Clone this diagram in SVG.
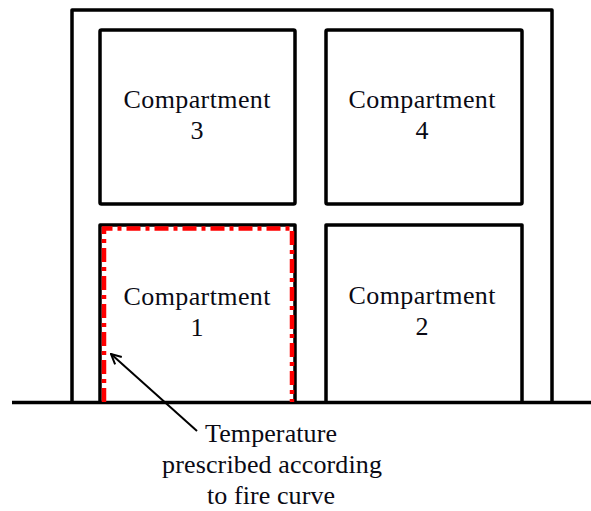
<svg xmlns="http://www.w3.org/2000/svg" width="591" height="511" viewBox="0 0 591 511">
<style>
.wall{fill:none;stroke:#000;stroke-width:3.5;stroke-linejoin:round}
.lbl{font-family:"Liberation Serif","Times New Roman",serif;font-size:26px;fill:#0a0a14;text-anchor:middle}
.fire{fill:none;stroke:#ff0000;stroke-width:4.5;stroke-dasharray:14 5 4 5}
</style>
<defs>
<marker id="arr" viewBox="0 0 12 12" refX="11" refY="6" markerWidth="12" markerHeight="12" markerUnits="userSpaceOnUse" orient="auto">
<path d="M1,1 L11,6 L1,11" fill="none" stroke="#000" stroke-width="2"/>
</marker>
</defs>
<rect width="591" height="511" fill="#fff"/>
<g id="building">
<path class="wall" d="M72,402 V10 H552 V402"/>
</g>
<g id="ground">
<line x1="12" y1="402.5" x2="591" y2="402.5" stroke="#000" stroke-width="3.5"/>
</g>
<g id="compartment3">
<rect class="wall" x="100" y="30" width="195" height="174" rx="1.5"/>
<text class="lbl" x="197" y="108" textLength="147" lengthAdjust="spacing">Compartment</text>
<text class="lbl" x="197" y="139">3</text>
</g>
<g id="compartment4">
<rect class="wall" x="326" y="30" width="196" height="174" rx="1.5"/>
<text class="lbl" x="422" y="108" textLength="147" lengthAdjust="spacing">Compartment</text>
<text class="lbl" x="422" y="139">4</text>
</g>
<g id="compartment1">
<path class="wall" d="M100,402 V225 H295 V402"/>
<path class="fire" d="M104,402 V228.5 H292 V402"/>
<text class="lbl" x="197" y="305" textLength="147" lengthAdjust="spacing">Compartment</text>
<text class="lbl" x="197" y="336">1</text>
</g>
<g id="compartment2">
<path class="wall" d="M326,402 V225 H522 V402"/>
<text class="lbl" x="422" y="304" textLength="147" lengthAdjust="spacing">Compartment</text>
<text class="lbl" x="422" y="335">2</text>
</g>
<g id="connectors">
<line x1="197" y1="431" x2="111" y2="354" stroke="#000" stroke-width="2" marker-end="url(#arr)"/>
</g>
<g id="annotation">
<text class="lbl" x="271" y="442" textLength="132" lengthAdjust="spacing">Temperature</text>
<text class="lbl" x="272" y="473" textLength="220" lengthAdjust="spacing">prescribed according</text>
<text class="lbl" x="271" y="504" textLength="128" lengthAdjust="spacing">to fire curve</text>
</g>
</svg>
